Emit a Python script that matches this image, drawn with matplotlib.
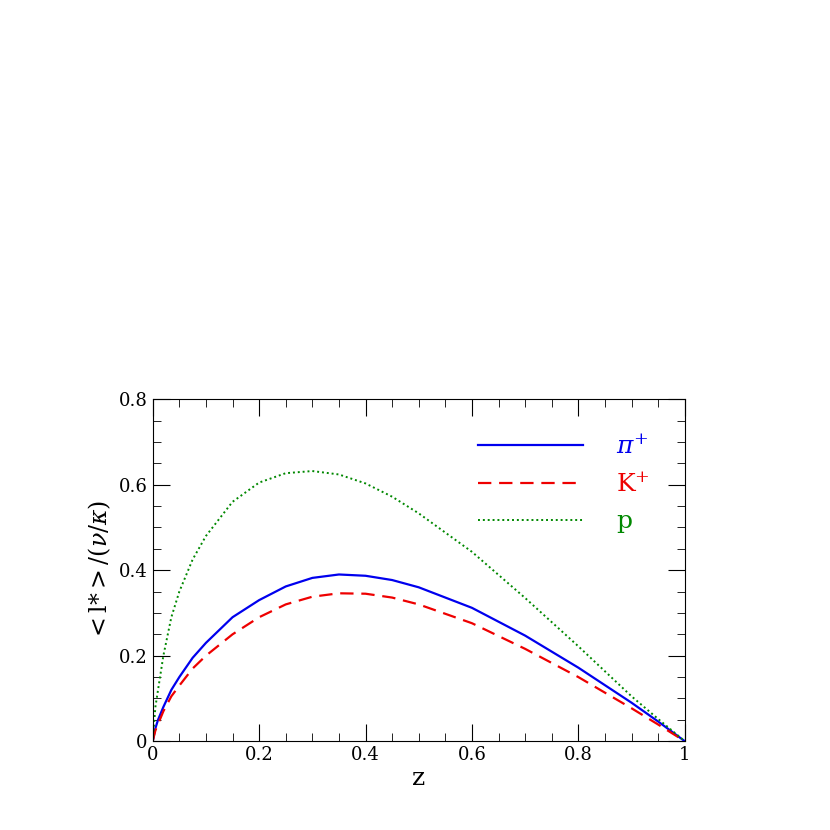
import matplotlib
matplotlib.use("Agg")
import matplotlib.pyplot as plt
from matplotlib.ticker import MultipleLocator

z = [0, 0.005, 0.01, 0.02, 0.035, 0.05, 0.075, 0.1, 0.15, 0.2, 0.25, 0.3, 0.35, 0.4, 0.45, 0.5, 0.6, 0.7, 0.8, 0.9, 0.95, 1.0]
pi_vals = [0, 0.03, 0.05, 0.08, 0.12, 0.15, 0.195, 0.23, 0.29, 0.33, 0.362, 0.382, 0.39, 0.387, 0.377, 0.36, 0.312, 0.247, 0.172, 0.09, 0.046, 0]
k_vals = [0, 0.025, 0.04, 0.07, 0.105, 0.13, 0.17, 0.2, 0.25, 0.29, 0.32, 0.338, 0.346, 0.345, 0.336, 0.32, 0.276, 0.216, 0.15, 0.077, 0.039, 0]
p_vals = [0, 0.08, 0.12, 0.2, 0.29, 0.35, 0.425, 0.48, 0.56, 0.605, 0.627, 0.632, 0.624, 0.603, 0.572, 0.533, 0.443, 0.335, 0.222, 0.105, 0.052, 0]
labels = [r"$\pi^{+}$", r"K$^{+}$", "p"]

plt.rcParams["font.family"] = "DejaVu Serif"
plt.rcParams["mathtext.fontset"] = "dejavuserif"
fig = plt.figure(figsize=(8.3, 8.3), dpi=100)
ax = fig.add_axes([0.184, 0.107, 0.641, 0.412])
l1, = ax.plot(z, pi_vals, color="#0000ee", lw=1.6, ls="-")
l2, = ax.plot(z, k_vals, color="#ee0000", lw=1.6, ls=(0, (6, 3.5)))
l3, = ax.plot(z, p_vals, color="#008800", lw=1.4, ls=(0, (1, 1.5)))
ax.set_xlim(0, 1)
ax.set_ylim(0, 0.8)
ax.xaxis.set_major_locator(MultipleLocator(0.2))
ax.xaxis.set_minor_locator(MultipleLocator(0.05))
ax.yaxis.set_major_locator(MultipleLocator(0.2))
ax.yaxis.set_minor_locator(MultipleLocator(0.05))
ax.set_xticklabels(["0", "0.2", "0.4", "0.6", "0.8", "1"] if False else None) if False else None
ax.xaxis.set_major_formatter(matplotlib.ticker.FuncFormatter(lambda v, p: "%g" % round(v, 2)))
ax.yaxis.set_major_formatter(matplotlib.ticker.FuncFormatter(lambda v, p: "%g" % round(v, 2)))
ax.tick_params(which="both", direction="in", top=True, right=True, labelsize=13)
ax.tick_params(which="major", length=12)
ax.tick_params(which="minor", length=6)
ax.set_xlabel("z", fontsize=18, labelpad=2)
ax.set_ylabel(r"$<$l$*$$>$/($\nu$/$\kappa$)", fontsize=17)
leg = ax.legend([l1, l2, l3], labels, loc="upper right", frameon=False, fontsize=18,
                handlelength=4.2, handletextpad=1.3, labelspacing=0.55, borderaxespad=1.0)
for t, c in zip(leg.get_texts(), ["#0000ee", "#ee0000", "#008800"]):
    t.set_color(c)
fig.savefig("out.png", dpi=100)
